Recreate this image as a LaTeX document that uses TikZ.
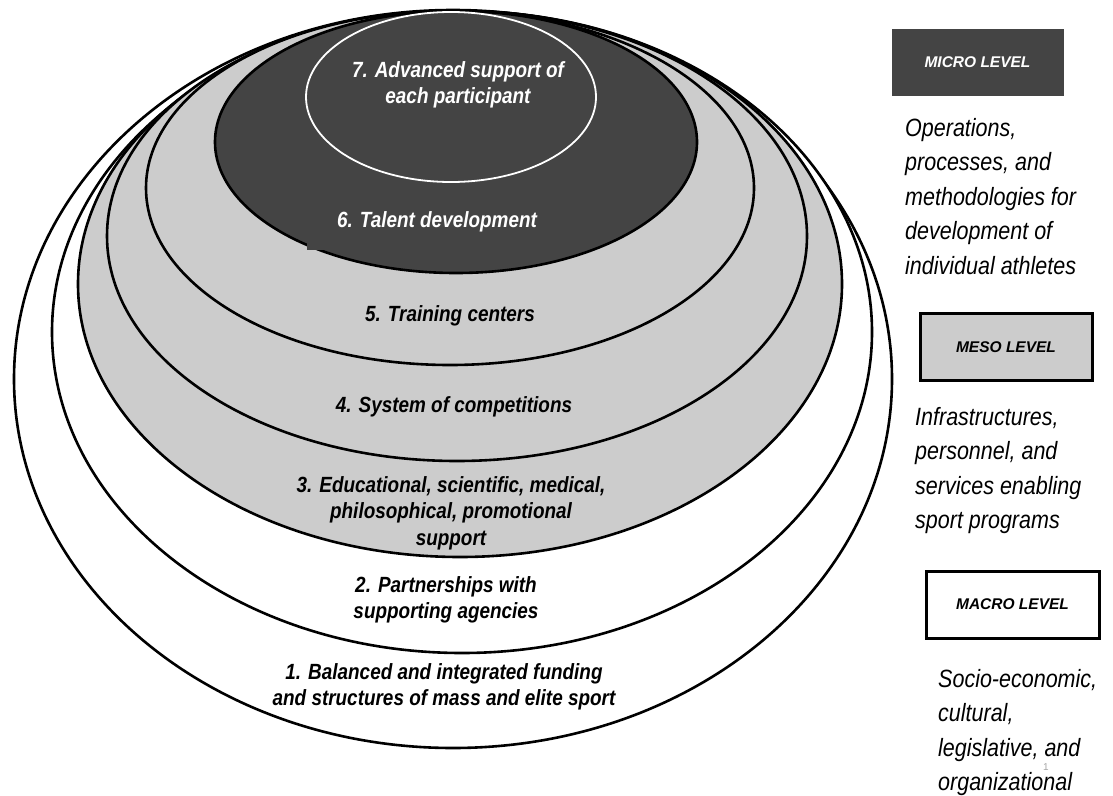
\documentclass[tikz,border=0pt]{standalone}
\usepackage{fontspec}
\setmainfont{Liberation Sans}
\newfontfamily\ringfont[FakeStretch=0.86]{Liberation Sans}
\newfontfamily\notefont[FakeStretch=0.86]{Liberation Sans}
\usetikzlibrary{positioning}
\definecolor{darkring}{HTML}{444444}
\definecolor{lightring}{HTML}{CCCCCC}
\tikzset{
  ringline/.style={draw=black, line width=2.6pt},
  ringlabel/.style={font=\ringfont\fontsize{22}{26.5}\selectfont\bfseries\itshape, align=center, inner sep=0pt},
  levelbox/.style={draw=black, line width=3pt, minimum width=172pt, minimum height=67pt, inner sep=0pt, font=\fontsize{15.5}{18}\selectfont\bfseries\itshape},
  notetext/.style={font=\notefont\fontsize{25}{34.5}\selectfont\itshape, align=left, anchor=north west, inner sep=0pt},
}

\begin{document}
\begin{tikzpicture}[x=1pt, y=-1pt]
  \useasboundingbox (0,0) rectangle (1113,795);
  % nested rings, outermost first
  \filldraw[ringline, fill=white]     (453,379) ellipse [x radius=439, y radius=369];
  \filldraw[ringline, fill=white]     (462,332) ellipse [x radius=410, y radius=321];
  \filldraw[ringline, fill=lightring] (460,284) ellipse [x radius=382, y radius=273];
  \filldraw[ringline, fill=lightring] (457,236) ellipse [x radius=350, y radius=225];
  \filldraw[ringline, fill=lightring] (450,188) ellipse [x radius=304, y radius=177];
  \filldraw[ringline, fill=darkring]  (456,142) ellipse [x radius=241, y radius=131];
  \fill[darkring] (307,236) rectangle (330,250);
  \draw[white, line width=1.8pt]      (451,97) ellipse [x radius=145, y radius=85];

  \node[ringlabel, text=white] (advanced) at (458,85) {7. Advanced support of\\each participant};
  \node[ringlabel, text=white] (talent) at (437,222) {6. Talent development};
  \node[ringlabel] (training) at (450,316) {5. Training centers};
  \node[ringlabel] (competitions) at (454,407) {4. System of competitions};
  \node[ringlabel] (support) at (451,513) {3. Educational, scientific, medical,\\philosophical, promotional\\support};
  \node[ringlabel] (partners) at (446,600) {2. Partnerships with\\supporting agencies};
  \node[ringlabel] (funding) at (444,687) {1. Balanced and integrated funding\\and structures of mass and elite sport};

  % level legend
  \node[levelbox, draw=darkring, line width=0.8pt, fill=darkring, text=white, minimum width=171pt, minimum height=66pt] (micro) at (977.5,62) {MICRO LEVEL};
  \node[notetext] (microtext) at (905,118) {Operations,\\processes, and\\methodologies for\\development of\\individual athletes};
  \node[levelbox, fill=lightring] (meso) at (1006,347) {MESO LEVEL};
  \node[notetext] (mesotext) at (915,407) {Infrastructures,\\personnel, and\\services enabling\\sport programs};
  \node[levelbox, fill=white, minimum width=173pt] (macro) at (1012.5,604.5) {MACRO LEVEL};
  \node[notetext] (macrotext) at (938,669) {Socio-economic,\\cultural,\\legislative, and\\organizational};
  \node[text=gray!70, font=\fontsize{10}{12}\selectfont, inner sep=0pt] (slideno) at (1046,767) {1};
\end{tikzpicture}
\end{document}
